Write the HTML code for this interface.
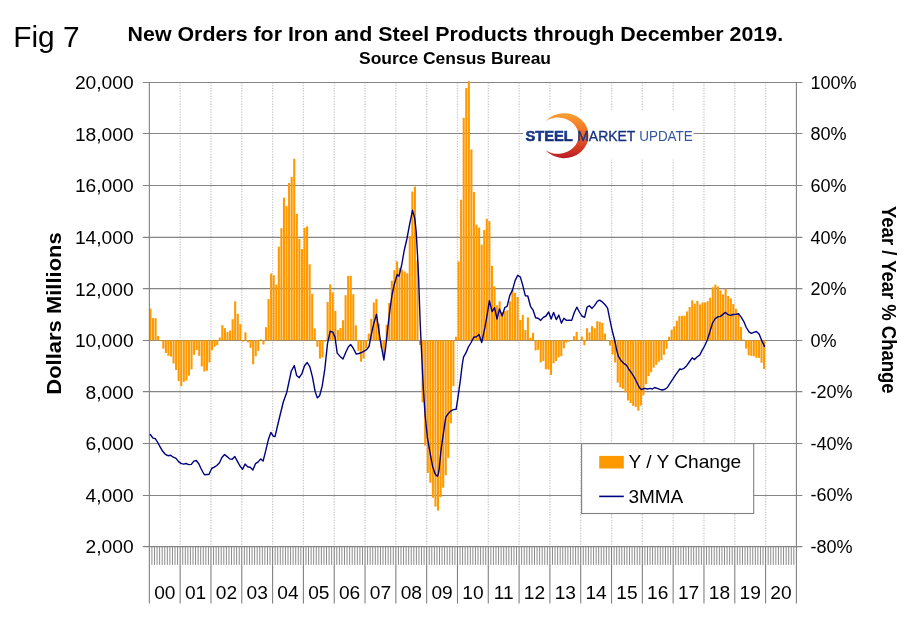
<!DOCTYPE html>
<html lang="en"><head><meta charset="utf-8"><title>Fig 7 - New Orders for Iron and Steel Products</title>
<style>html,body{margin:0;padding:0;background:#fff}svg{display:block}text{font-family:"Liberation Sans",Arial,sans-serif;fill:#000}</style></head><body>
<svg width="910" height="622" viewBox="0 0 910 622">
<rect width="910" height="622" fill="#fff"/>
<g stroke="#cacaca" stroke-width="1.3" stroke-dasharray="1.3 1.35" fill="none">
<line x1="180.16" y1="82.40" x2="180.16" y2="546.70"/>
<line x1="210.97" y1="82.40" x2="210.97" y2="546.70"/>
<line x1="241.79" y1="82.40" x2="241.79" y2="546.70"/>
<line x1="272.60" y1="82.40" x2="272.60" y2="546.70"/>
<line x1="303.41" y1="82.40" x2="303.41" y2="546.70"/>
<line x1="334.22" y1="82.40" x2="334.22" y2="546.70"/>
<line x1="365.03" y1="82.40" x2="365.03" y2="546.70"/>
<line x1="395.85" y1="82.40" x2="395.85" y2="546.70"/>
<line x1="426.66" y1="82.40" x2="426.66" y2="546.70"/>
<line x1="457.47" y1="82.40" x2="457.47" y2="546.70"/>
<line x1="488.28" y1="82.40" x2="488.28" y2="546.70"/>
<line x1="519.09" y1="82.40" x2="519.09" y2="546.70"/>
<line x1="549.90" y1="82.40" x2="549.90" y2="546.70"/>
<line x1="580.72" y1="82.40" x2="580.72" y2="546.70"/>
<line x1="611.53" y1="82.40" x2="611.53" y2="546.70"/>
<line x1="642.34" y1="82.40" x2="642.34" y2="546.70"/>
<line x1="673.15" y1="82.40" x2="673.15" y2="546.70"/>
<line x1="703.96" y1="82.40" x2="703.96" y2="546.70"/>
<line x1="734.78" y1="82.40" x2="734.78" y2="546.70"/>
<line x1="765.59" y1="82.40" x2="765.59" y2="546.70"/>
</g>
<g stroke="#858585" stroke-width="1.15" fill="none">
<line x1="142.85" y1="82.45" x2="802.40" y2="82.45"/>
<line x1="142.85" y1="133.50" x2="802.40" y2="133.50"/>
<line x1="142.85" y1="185.45" x2="802.40" y2="185.45"/>
<line x1="142.85" y1="237.35" x2="802.40" y2="237.35"/>
<line x1="142.85" y1="288.65" x2="802.40" y2="288.65"/>
<line x1="142.85" y1="340.45" x2="802.40" y2="340.45"/>
<line x1="142.85" y1="391.65" x2="802.40" y2="391.65"/>
<line x1="142.85" y1="443.50" x2="802.40" y2="443.50"/>
<line x1="142.85" y1="495.45" x2="802.40" y2="495.45"/>
<line x1="142.85" y1="546.65" x2="802.40" y2="546.65"/>
</g>
<rect x="523" y="110.5" width="170.5" height="49" fill="#fff"/>
<g fill="#ff9900">
<rect x="149.40" y="308.62" width="2.10" height="31.73"/>
<rect x="151.97" y="318.16" width="2.10" height="22.18"/>
<rect x="154.54" y="318.16" width="2.10" height="22.18"/>
<rect x="157.10" y="335.96" width="2.10" height="4.39"/>
<rect x="159.67" y="340.34" width="2.10" height="0.52"/>
<rect x="162.24" y="340.34" width="2.10" height="8.25"/>
<rect x="164.81" y="340.34" width="2.10" height="12.64"/>
<rect x="167.37" y="340.34" width="2.10" height="15.48"/>
<rect x="169.94" y="340.34" width="2.10" height="16.25"/>
<rect x="172.51" y="340.34" width="2.10" height="23.22"/>
<rect x="175.08" y="340.34" width="2.10" height="29.66"/>
<rect x="177.64" y="340.34" width="2.10" height="40.76"/>
<rect x="180.21" y="340.34" width="2.10" height="45.91"/>
<rect x="182.78" y="340.34" width="2.10" height="41.53"/>
<rect x="185.35" y="340.34" width="2.10" height="40.24"/>
<rect x="187.91" y="340.34" width="2.10" height="35.34"/>
<rect x="190.48" y="340.34" width="2.10" height="29.15"/>
<rect x="193.05" y="340.34" width="2.10" height="14.44"/>
<rect x="195.62" y="340.34" width="2.10" height="9.80"/>
<rect x="198.19" y="340.34" width="2.10" height="15.48"/>
<rect x="200.75" y="340.34" width="2.10" height="26.05"/>
<rect x="203.32" y="340.34" width="2.10" height="31.21"/>
<rect x="205.89" y="340.34" width="2.10" height="30.44"/>
<rect x="208.46" y="340.34" width="2.10" height="22.18"/>
<rect x="211.02" y="340.34" width="2.10" height="9.80"/>
<rect x="213.59" y="340.34" width="2.10" height="6.45"/>
<rect x="216.16" y="340.34" width="2.10" height="4.90"/>
<rect x="218.73" y="337.51" width="2.10" height="2.84"/>
<rect x="221.29" y="325.13" width="2.10" height="15.22"/>
<rect x="223.86" y="328.22" width="2.10" height="12.12"/>
<rect x="226.43" y="332.09" width="2.10" height="8.25"/>
<rect x="229.00" y="330.54" width="2.10" height="9.80"/>
<rect x="231.57" y="319.19" width="2.10" height="21.15"/>
<rect x="234.13" y="301.39" width="2.10" height="38.95"/>
<rect x="236.70" y="313.78" width="2.10" height="26.57"/>
<rect x="239.27" y="324.09" width="2.10" height="16.25"/>
<rect x="241.84" y="340.34" width="2.10" height="1.29"/>
<rect x="244.40" y="332.35" width="2.10" height="8.00"/>
<rect x="246.97" y="340.34" width="2.10" height="2.06"/>
<rect x="249.54" y="340.34" width="2.10" height="7.48"/>
<rect x="252.11" y="340.34" width="2.10" height="23.99"/>
<rect x="254.67" y="340.34" width="2.10" height="15.99"/>
<rect x="257.24" y="340.34" width="2.10" height="10.58"/>
<rect x="259.81" y="339.31" width="2.10" height="1.03"/>
<rect x="262.38" y="340.34" width="2.10" height="4.13"/>
<rect x="264.94" y="327.19" width="2.10" height="13.16"/>
<rect x="267.51" y="299.07" width="2.10" height="41.27"/>
<rect x="270.08" y="273.54" width="2.10" height="66.81"/>
<rect x="272.65" y="275.34" width="2.10" height="65.00"/>
<rect x="275.22" y="284.63" width="2.10" height="55.72"/>
<rect x="277.78" y="246.71" width="2.10" height="93.63"/>
<rect x="280.35" y="228.14" width="2.10" height="112.21"/>
<rect x="282.92" y="197.70" width="2.10" height="142.64"/>
<rect x="285.49" y="206.21" width="2.10" height="134.13"/>
<rect x="288.05" y="183.00" width="2.10" height="157.35"/>
<rect x="290.62" y="176.81" width="2.10" height="163.54"/>
<rect x="293.19" y="158.75" width="2.10" height="181.59"/>
<rect x="295.76" y="213.95" width="2.10" height="126.39"/>
<rect x="298.32" y="238.97" width="2.10" height="101.37"/>
<rect x="300.89" y="249.03" width="2.10" height="91.31"/>
<rect x="303.46" y="227.88" width="2.10" height="112.46"/>
<rect x="306.03" y="226.33" width="2.10" height="114.01"/>
<rect x="308.59" y="264.25" width="2.10" height="76.09"/>
<rect x="311.16" y="293.91" width="2.10" height="46.43"/>
<rect x="313.73" y="328.48" width="2.10" height="11.87"/>
<rect x="316.30" y="340.34" width="2.10" height="6.45"/>
<rect x="318.87" y="340.34" width="2.10" height="18.31"/>
<rect x="321.43" y="340.34" width="2.10" height="17.02"/>
<rect x="324.00" y="340.34" width="2.10" height="1.29"/>
<rect x="326.57" y="301.91" width="2.10" height="38.43"/>
<rect x="329.14" y="284.37" width="2.10" height="55.97"/>
<rect x="331.70" y="292.37" width="2.10" height="47.98"/>
<rect x="334.27" y="310.94" width="2.10" height="29.41"/>
<rect x="336.84" y="330.03" width="2.10" height="10.32"/>
<rect x="339.41" y="327.96" width="2.10" height="12.38"/>
<rect x="341.97" y="320.22" width="2.10" height="20.12"/>
<rect x="344.54" y="295.20" width="2.10" height="45.14"/>
<rect x="347.11" y="275.86" width="2.10" height="64.49"/>
<rect x="349.68" y="275.86" width="2.10" height="64.49"/>
<rect x="352.25" y="294.17" width="2.10" height="46.17"/>
<rect x="354.81" y="325.38" width="2.10" height="14.96"/>
<rect x="357.38" y="340.34" width="2.10" height="10.58"/>
<rect x="359.95" y="340.34" width="2.10" height="21.41"/>
<rect x="362.52" y="340.34" width="2.10" height="18.31"/>
<rect x="365.08" y="340.34" width="2.10" height="7.74"/>
<rect x="367.65" y="333.64" width="2.10" height="6.71"/>
<rect x="370.22" y="318.94" width="2.10" height="21.41"/>
<rect x="372.79" y="302.43" width="2.10" height="37.92"/>
<rect x="375.35" y="299.07" width="2.10" height="41.27"/>
<rect x="377.92" y="323.58" width="2.10" height="16.77"/>
<rect x="380.49" y="340.34" width="2.10" height="7.74"/>
<rect x="383.06" y="340.34" width="2.10" height="14.70"/>
<rect x="385.62" y="324.87" width="2.10" height="15.48"/>
<rect x="388.19" y="302.94" width="2.10" height="37.40"/>
<rect x="390.76" y="280.76" width="2.10" height="59.59"/>
<rect x="393.33" y="270.18" width="2.10" height="70.16"/>
<rect x="395.90" y="261.41" width="2.10" height="78.93"/>
<rect x="398.46" y="267.86" width="2.10" height="72.48"/>
<rect x="401.03" y="269.67" width="2.10" height="70.68"/>
<rect x="403.60" y="271.47" width="2.10" height="68.87"/>
<rect x="406.17" y="273.28" width="2.10" height="67.07"/>
<rect x="408.73" y="236.13" width="2.10" height="104.21"/>
<rect x="411.30" y="191.51" width="2.10" height="148.83"/>
<rect x="413.87" y="186.61" width="2.10" height="153.73"/>
<rect x="416.44" y="260.64" width="2.10" height="79.70"/>
<rect x="419.00" y="340.34" width="2.10" height="4.64"/>
<rect x="421.57" y="340.34" width="2.10" height="61.91"/>
<rect x="424.14" y="340.34" width="2.10" height="105.24"/>
<rect x="426.71" y="340.34" width="2.10" height="132.58"/>
<rect x="429.27" y="340.34" width="2.10" height="142.39"/>
<rect x="431.84" y="340.34" width="2.10" height="157.35"/>
<rect x="434.41" y="340.34" width="2.10" height="166.37"/>
<rect x="436.98" y="340.34" width="2.10" height="170.24"/>
<rect x="439.55" y="340.34" width="2.10" height="156.83"/>
<rect x="442.11" y="340.34" width="2.10" height="147.29"/>
<rect x="444.68" y="340.34" width="2.10" height="134.90"/>
<rect x="447.25" y="340.34" width="2.10" height="117.62"/>
<rect x="449.82" y="340.34" width="2.10" height="82.80"/>
<rect x="452.38" y="340.34" width="2.10" height="45.91"/>
<rect x="454.95" y="336.73" width="2.10" height="3.61"/>
<rect x="457.52" y="261.41" width="2.10" height="78.93"/>
<rect x="460.09" y="199.76" width="2.10" height="140.58"/>
<rect x="462.65" y="117.74" width="2.10" height="222.61"/>
<rect x="465.22" y="88.07" width="2.10" height="252.27"/>
<rect x="467.79" y="81.11" width="2.10" height="259.23"/>
<rect x="470.36" y="149.47" width="2.10" height="190.88"/>
<rect x="472.93" y="192.03" width="2.10" height="148.32"/>
<rect x="475.49" y="224.79" width="2.10" height="115.56"/>
<rect x="478.06" y="227.62" width="2.10" height="112.72"/>
<rect x="480.63" y="244.65" width="2.10" height="95.70"/>
<rect x="483.20" y="229.94" width="2.10" height="110.40"/>
<rect x="485.76" y="218.85" width="2.10" height="121.49"/>
<rect x="488.33" y="221.17" width="2.10" height="119.17"/>
<rect x="490.90" y="265.80" width="2.10" height="74.55"/>
<rect x="493.47" y="286.43" width="2.10" height="53.91"/>
<rect x="496.03" y="305.26" width="2.10" height="35.08"/>
<rect x="498.60" y="301.39" width="2.10" height="38.95"/>
<rect x="501.17" y="311.97" width="2.10" height="28.37"/>
<rect x="503.74" y="311.20" width="2.10" height="29.15"/>
<rect x="506.30" y="310.16" width="2.10" height="30.18"/>
<rect x="508.87" y="301.14" width="2.10" height="39.21"/>
<rect x="511.44" y="288.50" width="2.10" height="51.85"/>
<rect x="514.01" y="292.88" width="2.10" height="47.46"/>
<rect x="516.58" y="297.01" width="2.10" height="43.33"/>
<rect x="519.14" y="319.97" width="2.10" height="20.38"/>
<rect x="521.71" y="315.07" width="2.10" height="25.28"/>
<rect x="524.28" y="330.03" width="2.10" height="10.32"/>
<rect x="526.85" y="317.39" width="2.10" height="22.96"/>
<rect x="529.41" y="337.76" width="2.10" height="2.58"/>
<rect x="531.98" y="332.86" width="2.10" height="7.48"/>
<rect x="534.55" y="340.34" width="2.10" height="10.06"/>
<rect x="537.12" y="340.34" width="2.10" height="9.54"/>
<rect x="539.68" y="340.34" width="2.10" height="22.18"/>
<rect x="542.25" y="340.34" width="2.10" height="20.64"/>
<rect x="544.82" y="340.34" width="2.10" height="28.89"/>
<rect x="547.39" y="340.34" width="2.10" height="29.15"/>
<rect x="549.95" y="340.34" width="2.10" height="34.56"/>
<rect x="552.52" y="340.34" width="2.10" height="22.96"/>
<rect x="555.09" y="340.34" width="2.10" height="20.64"/>
<rect x="557.66" y="340.34" width="2.10" height="17.02"/>
<rect x="560.23" y="340.34" width="2.10" height="15.99"/>
<rect x="562.79" y="340.34" width="2.10" height="8.00"/>
<rect x="565.36" y="340.34" width="2.10" height="2.32"/>
<rect x="567.93" y="340.34" width="2.10" height="1.29"/>
<rect x="570.50" y="340.34" width="2.10" height="0.30"/>
<rect x="573.06" y="336.22" width="2.10" height="4.13"/>
<rect x="575.63" y="331.83" width="2.10" height="8.51"/>
<rect x="578.20" y="339.83" width="2.10" height="0.52"/>
<rect x="580.77" y="336.48" width="2.10" height="3.87"/>
<rect x="583.33" y="340.34" width="2.10" height="4.90"/>
<rect x="585.90" y="328.22" width="2.10" height="12.12"/>
<rect x="588.47" y="332.35" width="2.10" height="8.00"/>
<rect x="591.04" y="326.16" width="2.10" height="14.19"/>
<rect x="593.60" y="328.22" width="2.10" height="12.12"/>
<rect x="596.17" y="321.26" width="2.10" height="19.09"/>
<rect x="598.74" y="321.77" width="2.10" height="18.57"/>
<rect x="601.31" y="322.80" width="2.10" height="17.54"/>
<rect x="603.88" y="333.64" width="2.10" height="6.71"/>
<rect x="606.44" y="340.34" width="2.10" height="0.77"/>
<rect x="609.01" y="340.34" width="2.10" height="5.16"/>
<rect x="611.58" y="340.34" width="2.10" height="14.19"/>
<rect x="614.15" y="340.34" width="2.10" height="22.18"/>
<rect x="616.71" y="340.34" width="2.10" height="42.30"/>
<rect x="619.28" y="340.34" width="2.10" height="46.95"/>
<rect x="621.85" y="340.34" width="2.10" height="48.49"/>
<rect x="624.42" y="340.34" width="2.10" height="52.10"/>
<rect x="626.98" y="340.34" width="2.10" height="60.10"/>
<rect x="629.55" y="340.34" width="2.10" height="62.68"/>
<rect x="632.12" y="340.34" width="2.10" height="65.52"/>
<rect x="634.69" y="340.34" width="2.10" height="66.55"/>
<rect x="637.26" y="340.34" width="2.10" height="70.42"/>
<rect x="639.82" y="340.34" width="2.10" height="65.26"/>
<rect x="642.39" y="340.34" width="2.10" height="54.94"/>
<rect x="644.96" y="340.34" width="2.10" height="43.85"/>
<rect x="647.53" y="340.34" width="2.10" height="35.85"/>
<rect x="650.09" y="340.34" width="2.10" height="31.99"/>
<rect x="652.66" y="340.34" width="2.10" height="27.34"/>
<rect x="655.23" y="340.34" width="2.10" height="24.50"/>
<rect x="657.80" y="340.34" width="2.10" height="21.41"/>
<rect x="660.36" y="340.34" width="2.10" height="19.60"/>
<rect x="662.93" y="340.34" width="2.10" height="14.44"/>
<rect x="665.50" y="340.34" width="2.10" height="8.51"/>
<rect x="668.07" y="336.73" width="2.10" height="3.61"/>
<rect x="670.63" y="329.77" width="2.10" height="10.58"/>
<rect x="673.20" y="326.42" width="2.10" height="13.93"/>
<rect x="675.77" y="320.74" width="2.10" height="19.60"/>
<rect x="678.34" y="316.10" width="2.10" height="24.25"/>
<rect x="680.91" y="315.84" width="2.10" height="24.50"/>
<rect x="683.47" y="315.58" width="2.10" height="24.76"/>
<rect x="686.04" y="311.45" width="2.10" height="28.89"/>
<rect x="688.61" y="307.07" width="2.10" height="33.27"/>
<rect x="691.18" y="300.36" width="2.10" height="39.98"/>
<rect x="693.74" y="303.72" width="2.10" height="36.63"/>
<rect x="696.31" y="300.88" width="2.10" height="39.47"/>
<rect x="698.88" y="304.49" width="2.10" height="35.85"/>
<rect x="701.45" y="302.43" width="2.10" height="37.92"/>
<rect x="704.01" y="302.43" width="2.10" height="37.92"/>
<rect x="706.58" y="301.14" width="2.10" height="39.21"/>
<rect x="709.15" y="297.78" width="2.10" height="42.56"/>
<rect x="711.72" y="287.21" width="2.10" height="53.14"/>
<rect x="714.28" y="284.63" width="2.10" height="55.72"/>
<rect x="716.85" y="286.43" width="2.10" height="53.91"/>
<rect x="719.42" y="290.56" width="2.10" height="49.78"/>
<rect x="721.99" y="294.43" width="2.10" height="45.91"/>
<rect x="724.56" y="288.76" width="2.10" height="51.59"/>
<rect x="727.12" y="295.98" width="2.10" height="44.37"/>
<rect x="729.69" y="298.30" width="2.10" height="42.04"/>
<rect x="732.26" y="303.97" width="2.10" height="36.37"/>
<rect x="734.83" y="308.88" width="2.10" height="31.47"/>
<rect x="737.39" y="313.26" width="2.10" height="27.08"/>
<rect x="739.96" y="326.93" width="2.10" height="13.41"/>
<rect x="742.53" y="339.57" width="2.10" height="0.77"/>
<rect x="745.10" y="340.34" width="2.10" height="8.25"/>
<rect x="747.66" y="340.34" width="2.10" height="14.96"/>
<rect x="750.23" y="340.34" width="2.10" height="15.48"/>
<rect x="752.80" y="340.34" width="2.10" height="15.99"/>
<rect x="755.37" y="340.34" width="2.10" height="17.54"/>
<rect x="757.94" y="340.34" width="2.10" height="17.54"/>
<rect x="760.50" y="340.34" width="2.10" height="22.44"/>
<rect x="763.07" y="340.34" width="2.10" height="28.63"/>
</g>
<g stroke="#808080" stroke-width="1.1" fill="none">
<line x1="149.35" y1="82.40" x2="149.35" y2="603.60"/>
<line x1="796.40" y1="82.40" x2="796.40" y2="603.60"/>
<line x1="180.16" y1="546.70" x2="180.16" y2="603.60"/>
<line x1="210.97" y1="546.70" x2="210.97" y2="603.60"/>
<line x1="241.79" y1="546.70" x2="241.79" y2="603.60"/>
<line x1="272.60" y1="546.70" x2="272.60" y2="603.60"/>
<line x1="303.41" y1="546.70" x2="303.41" y2="603.60"/>
<line x1="334.22" y1="546.70" x2="334.22" y2="603.60"/>
<line x1="365.03" y1="546.70" x2="365.03" y2="603.60"/>
<line x1="395.85" y1="546.70" x2="395.85" y2="603.60"/>
<line x1="426.66" y1="546.70" x2="426.66" y2="603.60"/>
<line x1="457.47" y1="546.70" x2="457.47" y2="603.60"/>
<line x1="488.28" y1="546.70" x2="488.28" y2="603.60"/>
<line x1="519.09" y1="546.70" x2="519.09" y2="603.60"/>
<line x1="549.90" y1="546.70" x2="549.90" y2="603.60"/>
<line x1="580.72" y1="546.70" x2="580.72" y2="603.60"/>
<line x1="611.53" y1="546.70" x2="611.53" y2="603.60"/>
<line x1="642.34" y1="546.70" x2="642.34" y2="603.60"/>
<line x1="673.15" y1="546.70" x2="673.15" y2="603.60"/>
<line x1="703.96" y1="546.70" x2="703.96" y2="603.60"/>
<line x1="734.78" y1="546.70" x2="734.78" y2="603.60"/>
<line x1="765.59" y1="546.70" x2="765.59" y2="603.60"/>
</g>
<g stroke="#828282" stroke-width="0.92" fill="none">
<line x1="151.92" y1="546.70" x2="151.92" y2="564.90"/>
<line x1="154.49" y1="546.70" x2="154.49" y2="564.90"/>
<line x1="157.05" y1="546.70" x2="157.05" y2="564.90"/>
<line x1="159.62" y1="546.70" x2="159.62" y2="564.90"/>
<line x1="162.19" y1="546.70" x2="162.19" y2="564.90"/>
<line x1="164.76" y1="546.70" x2="164.76" y2="564.90"/>
<line x1="167.32" y1="546.70" x2="167.32" y2="564.90"/>
<line x1="169.89" y1="546.70" x2="169.89" y2="564.90"/>
<line x1="172.46" y1="546.70" x2="172.46" y2="564.90"/>
<line x1="175.03" y1="546.70" x2="175.03" y2="564.90"/>
<line x1="177.59" y1="546.70" x2="177.59" y2="564.90"/>
<line x1="182.73" y1="546.70" x2="182.73" y2="564.90"/>
<line x1="185.30" y1="546.70" x2="185.30" y2="564.90"/>
<line x1="187.86" y1="546.70" x2="187.86" y2="564.90"/>
<line x1="190.43" y1="546.70" x2="190.43" y2="564.90"/>
<line x1="193.00" y1="546.70" x2="193.00" y2="564.90"/>
<line x1="195.57" y1="546.70" x2="195.57" y2="564.90"/>
<line x1="198.14" y1="546.70" x2="198.14" y2="564.90"/>
<line x1="200.70" y1="546.70" x2="200.70" y2="564.90"/>
<line x1="203.27" y1="546.70" x2="203.27" y2="564.90"/>
<line x1="205.84" y1="546.70" x2="205.84" y2="564.90"/>
<line x1="208.41" y1="546.70" x2="208.41" y2="564.90"/>
<line x1="213.54" y1="546.70" x2="213.54" y2="564.90"/>
<line x1="216.11" y1="546.70" x2="216.11" y2="564.90"/>
<line x1="218.68" y1="546.70" x2="218.68" y2="564.90"/>
<line x1="221.24" y1="546.70" x2="221.24" y2="564.90"/>
<line x1="223.81" y1="546.70" x2="223.81" y2="564.90"/>
<line x1="226.38" y1="546.70" x2="226.38" y2="564.90"/>
<line x1="228.95" y1="546.70" x2="228.95" y2="564.90"/>
<line x1="231.52" y1="546.70" x2="231.52" y2="564.90"/>
<line x1="234.08" y1="546.70" x2="234.08" y2="564.90"/>
<line x1="236.65" y1="546.70" x2="236.65" y2="564.90"/>
<line x1="239.22" y1="546.70" x2="239.22" y2="564.90"/>
<line x1="244.35" y1="546.70" x2="244.35" y2="564.90"/>
<line x1="246.92" y1="546.70" x2="246.92" y2="564.90"/>
<line x1="249.49" y1="546.70" x2="249.49" y2="564.90"/>
<line x1="252.06" y1="546.70" x2="252.06" y2="564.90"/>
<line x1="254.62" y1="546.70" x2="254.62" y2="564.90"/>
<line x1="257.19" y1="546.70" x2="257.19" y2="564.90"/>
<line x1="259.76" y1="546.70" x2="259.76" y2="564.90"/>
<line x1="262.33" y1="546.70" x2="262.33" y2="564.90"/>
<line x1="264.89" y1="546.70" x2="264.89" y2="564.90"/>
<line x1="267.46" y1="546.70" x2="267.46" y2="564.90"/>
<line x1="270.03" y1="546.70" x2="270.03" y2="564.90"/>
<line x1="275.17" y1="546.70" x2="275.17" y2="564.90"/>
<line x1="277.73" y1="546.70" x2="277.73" y2="564.90"/>
<line x1="280.30" y1="546.70" x2="280.30" y2="564.90"/>
<line x1="282.87" y1="546.70" x2="282.87" y2="564.90"/>
<line x1="285.44" y1="546.70" x2="285.44" y2="564.90"/>
<line x1="288.00" y1="546.70" x2="288.00" y2="564.90"/>
<line x1="290.57" y1="546.70" x2="290.57" y2="564.90"/>
<line x1="293.14" y1="546.70" x2="293.14" y2="564.90"/>
<line x1="295.71" y1="546.70" x2="295.71" y2="564.90"/>
<line x1="298.27" y1="546.70" x2="298.27" y2="564.90"/>
<line x1="300.84" y1="546.70" x2="300.84" y2="564.90"/>
<line x1="305.98" y1="546.70" x2="305.98" y2="564.90"/>
<line x1="308.54" y1="546.70" x2="308.54" y2="564.90"/>
<line x1="311.11" y1="546.70" x2="311.11" y2="564.90"/>
<line x1="313.68" y1="546.70" x2="313.68" y2="564.90"/>
<line x1="316.25" y1="546.70" x2="316.25" y2="564.90"/>
<line x1="318.82" y1="546.70" x2="318.82" y2="564.90"/>
<line x1="321.38" y1="546.70" x2="321.38" y2="564.90"/>
<line x1="323.95" y1="546.70" x2="323.95" y2="564.90"/>
<line x1="326.52" y1="546.70" x2="326.52" y2="564.90"/>
<line x1="329.09" y1="546.70" x2="329.09" y2="564.90"/>
<line x1="331.65" y1="546.70" x2="331.65" y2="564.90"/>
<line x1="336.79" y1="546.70" x2="336.79" y2="564.90"/>
<line x1="339.36" y1="546.70" x2="339.36" y2="564.90"/>
<line x1="341.92" y1="546.70" x2="341.92" y2="564.90"/>
<line x1="344.49" y1="546.70" x2="344.49" y2="564.90"/>
<line x1="347.06" y1="546.70" x2="347.06" y2="564.90"/>
<line x1="349.63" y1="546.70" x2="349.63" y2="564.90"/>
<line x1="352.20" y1="546.70" x2="352.20" y2="564.90"/>
<line x1="354.76" y1="546.70" x2="354.76" y2="564.90"/>
<line x1="357.33" y1="546.70" x2="357.33" y2="564.90"/>
<line x1="359.90" y1="546.70" x2="359.90" y2="564.90"/>
<line x1="362.47" y1="546.70" x2="362.47" y2="564.90"/>
<line x1="367.60" y1="546.70" x2="367.60" y2="564.90"/>
<line x1="370.17" y1="546.70" x2="370.17" y2="564.90"/>
<line x1="372.74" y1="546.70" x2="372.74" y2="564.90"/>
<line x1="375.30" y1="546.70" x2="375.30" y2="564.90"/>
<line x1="377.87" y1="546.70" x2="377.87" y2="564.90"/>
<line x1="380.44" y1="546.70" x2="380.44" y2="564.90"/>
<line x1="383.01" y1="546.70" x2="383.01" y2="564.90"/>
<line x1="385.57" y1="546.70" x2="385.57" y2="564.90"/>
<line x1="388.14" y1="546.70" x2="388.14" y2="564.90"/>
<line x1="390.71" y1="546.70" x2="390.71" y2="564.90"/>
<line x1="393.28" y1="546.70" x2="393.28" y2="564.90"/>
<line x1="398.41" y1="546.70" x2="398.41" y2="564.90"/>
<line x1="400.98" y1="546.70" x2="400.98" y2="564.90"/>
<line x1="403.55" y1="546.70" x2="403.55" y2="564.90"/>
<line x1="406.12" y1="546.70" x2="406.12" y2="564.90"/>
<line x1="408.68" y1="546.70" x2="408.68" y2="564.90"/>
<line x1="411.25" y1="546.70" x2="411.25" y2="564.90"/>
<line x1="413.82" y1="546.70" x2="413.82" y2="564.90"/>
<line x1="416.39" y1="546.70" x2="416.39" y2="564.90"/>
<line x1="418.95" y1="546.70" x2="418.95" y2="564.90"/>
<line x1="421.52" y1="546.70" x2="421.52" y2="564.90"/>
<line x1="424.09" y1="546.70" x2="424.09" y2="564.90"/>
<line x1="429.22" y1="546.70" x2="429.22" y2="564.90"/>
<line x1="431.79" y1="546.70" x2="431.79" y2="564.90"/>
<line x1="434.36" y1="546.70" x2="434.36" y2="564.90"/>
<line x1="436.93" y1="546.70" x2="436.93" y2="564.90"/>
<line x1="439.50" y1="546.70" x2="439.50" y2="564.90"/>
<line x1="442.06" y1="546.70" x2="442.06" y2="564.90"/>
<line x1="444.63" y1="546.70" x2="444.63" y2="564.90"/>
<line x1="447.20" y1="546.70" x2="447.20" y2="564.90"/>
<line x1="449.77" y1="546.70" x2="449.77" y2="564.90"/>
<line x1="452.33" y1="546.70" x2="452.33" y2="564.90"/>
<line x1="454.90" y1="546.70" x2="454.90" y2="564.90"/>
<line x1="460.04" y1="546.70" x2="460.04" y2="564.90"/>
<line x1="462.60" y1="546.70" x2="462.60" y2="564.90"/>
<line x1="465.17" y1="546.70" x2="465.17" y2="564.90"/>
<line x1="467.74" y1="546.70" x2="467.74" y2="564.90"/>
<line x1="470.31" y1="546.70" x2="470.31" y2="564.90"/>
<line x1="472.88" y1="546.70" x2="472.88" y2="564.90"/>
<line x1="475.44" y1="546.70" x2="475.44" y2="564.90"/>
<line x1="478.01" y1="546.70" x2="478.01" y2="564.90"/>
<line x1="480.58" y1="546.70" x2="480.58" y2="564.90"/>
<line x1="483.15" y1="546.70" x2="483.15" y2="564.90"/>
<line x1="485.71" y1="546.70" x2="485.71" y2="564.90"/>
<line x1="490.85" y1="546.70" x2="490.85" y2="564.90"/>
<line x1="493.42" y1="546.70" x2="493.42" y2="564.90"/>
<line x1="495.98" y1="546.70" x2="495.98" y2="564.90"/>
<line x1="498.55" y1="546.70" x2="498.55" y2="564.90"/>
<line x1="501.12" y1="546.70" x2="501.12" y2="564.90"/>
<line x1="503.69" y1="546.70" x2="503.69" y2="564.90"/>
<line x1="506.25" y1="546.70" x2="506.25" y2="564.90"/>
<line x1="508.82" y1="546.70" x2="508.82" y2="564.90"/>
<line x1="511.39" y1="546.70" x2="511.39" y2="564.90"/>
<line x1="513.96" y1="546.70" x2="513.96" y2="564.90"/>
<line x1="516.53" y1="546.70" x2="516.53" y2="564.90"/>
<line x1="521.66" y1="546.70" x2="521.66" y2="564.90"/>
<line x1="524.23" y1="546.70" x2="524.23" y2="564.90"/>
<line x1="526.80" y1="546.70" x2="526.80" y2="564.90"/>
<line x1="529.36" y1="546.70" x2="529.36" y2="564.90"/>
<line x1="531.93" y1="546.70" x2="531.93" y2="564.90"/>
<line x1="534.50" y1="546.70" x2="534.50" y2="564.90"/>
<line x1="537.07" y1="546.70" x2="537.07" y2="564.90"/>
<line x1="539.63" y1="546.70" x2="539.63" y2="564.90"/>
<line x1="542.20" y1="546.70" x2="542.20" y2="564.90"/>
<line x1="544.77" y1="546.70" x2="544.77" y2="564.90"/>
<line x1="547.34" y1="546.70" x2="547.34" y2="564.90"/>
<line x1="552.47" y1="546.70" x2="552.47" y2="564.90"/>
<line x1="555.04" y1="546.70" x2="555.04" y2="564.90"/>
<line x1="557.61" y1="546.70" x2="557.61" y2="564.90"/>
<line x1="560.18" y1="546.70" x2="560.18" y2="564.90"/>
<line x1="562.74" y1="546.70" x2="562.74" y2="564.90"/>
<line x1="565.31" y1="546.70" x2="565.31" y2="564.90"/>
<line x1="567.88" y1="546.70" x2="567.88" y2="564.90"/>
<line x1="570.45" y1="546.70" x2="570.45" y2="564.90"/>
<line x1="573.01" y1="546.70" x2="573.01" y2="564.90"/>
<line x1="575.58" y1="546.70" x2="575.58" y2="564.90"/>
<line x1="578.15" y1="546.70" x2="578.15" y2="564.90"/>
<line x1="583.28" y1="546.70" x2="583.28" y2="564.90"/>
<line x1="585.85" y1="546.70" x2="585.85" y2="564.90"/>
<line x1="588.42" y1="546.70" x2="588.42" y2="564.90"/>
<line x1="590.99" y1="546.70" x2="590.99" y2="564.90"/>
<line x1="593.55" y1="546.70" x2="593.55" y2="564.90"/>
<line x1="596.12" y1="546.70" x2="596.12" y2="564.90"/>
<line x1="598.69" y1="546.70" x2="598.69" y2="564.90"/>
<line x1="601.26" y1="546.70" x2="601.26" y2="564.90"/>
<line x1="603.83" y1="546.70" x2="603.83" y2="564.90"/>
<line x1="606.39" y1="546.70" x2="606.39" y2="564.90"/>
<line x1="608.96" y1="546.70" x2="608.96" y2="564.90"/>
<line x1="614.10" y1="546.70" x2="614.10" y2="564.90"/>
<line x1="616.66" y1="546.70" x2="616.66" y2="564.90"/>
<line x1="619.23" y1="546.70" x2="619.23" y2="564.90"/>
<line x1="621.80" y1="546.70" x2="621.80" y2="564.90"/>
<line x1="624.37" y1="546.70" x2="624.37" y2="564.90"/>
<line x1="626.93" y1="546.70" x2="626.93" y2="564.90"/>
<line x1="629.50" y1="546.70" x2="629.50" y2="564.90"/>
<line x1="632.07" y1="546.70" x2="632.07" y2="564.90"/>
<line x1="634.64" y1="546.70" x2="634.64" y2="564.90"/>
<line x1="637.21" y1="546.70" x2="637.21" y2="564.90"/>
<line x1="639.77" y1="546.70" x2="639.77" y2="564.90"/>
<line x1="644.91" y1="546.70" x2="644.91" y2="564.90"/>
<line x1="647.48" y1="546.70" x2="647.48" y2="564.90"/>
<line x1="650.04" y1="546.70" x2="650.04" y2="564.90"/>
<line x1="652.61" y1="546.70" x2="652.61" y2="564.90"/>
<line x1="655.18" y1="546.70" x2="655.18" y2="564.90"/>
<line x1="657.75" y1="546.70" x2="657.75" y2="564.90"/>
<line x1="660.31" y1="546.70" x2="660.31" y2="564.90"/>
<line x1="662.88" y1="546.70" x2="662.88" y2="564.90"/>
<line x1="665.45" y1="546.70" x2="665.45" y2="564.90"/>
<line x1="668.02" y1="546.70" x2="668.02" y2="564.90"/>
<line x1="670.58" y1="546.70" x2="670.58" y2="564.90"/>
<line x1="675.72" y1="546.70" x2="675.72" y2="564.90"/>
<line x1="678.29" y1="546.70" x2="678.29" y2="564.90"/>
<line x1="680.86" y1="546.70" x2="680.86" y2="564.90"/>
<line x1="683.42" y1="546.70" x2="683.42" y2="564.90"/>
<line x1="685.99" y1="546.70" x2="685.99" y2="564.90"/>
<line x1="688.56" y1="546.70" x2="688.56" y2="564.90"/>
<line x1="691.13" y1="546.70" x2="691.13" y2="564.90"/>
<line x1="693.69" y1="546.70" x2="693.69" y2="564.90"/>
<line x1="696.26" y1="546.70" x2="696.26" y2="564.90"/>
<line x1="698.83" y1="546.70" x2="698.83" y2="564.90"/>
<line x1="701.40" y1="546.70" x2="701.40" y2="564.90"/>
<line x1="706.53" y1="546.70" x2="706.53" y2="564.90"/>
<line x1="709.10" y1="546.70" x2="709.10" y2="564.90"/>
<line x1="711.67" y1="546.70" x2="711.67" y2="564.90"/>
<line x1="714.23" y1="546.70" x2="714.23" y2="564.90"/>
<line x1="716.80" y1="546.70" x2="716.80" y2="564.90"/>
<line x1="719.37" y1="546.70" x2="719.37" y2="564.90"/>
<line x1="721.94" y1="546.70" x2="721.94" y2="564.90"/>
<line x1="724.51" y1="546.70" x2="724.51" y2="564.90"/>
<line x1="727.07" y1="546.70" x2="727.07" y2="564.90"/>
<line x1="729.64" y1="546.70" x2="729.64" y2="564.90"/>
<line x1="732.21" y1="546.70" x2="732.21" y2="564.90"/>
<line x1="737.34" y1="546.70" x2="737.34" y2="564.90"/>
<line x1="739.91" y1="546.70" x2="739.91" y2="564.90"/>
<line x1="742.48" y1="546.70" x2="742.48" y2="564.90"/>
<line x1="745.05" y1="546.70" x2="745.05" y2="564.90"/>
<line x1="747.61" y1="546.70" x2="747.61" y2="564.90"/>
<line x1="750.18" y1="546.70" x2="750.18" y2="564.90"/>
<line x1="752.75" y1="546.70" x2="752.75" y2="564.90"/>
<line x1="755.32" y1="546.70" x2="755.32" y2="564.90"/>
<line x1="757.89" y1="546.70" x2="757.89" y2="564.90"/>
<line x1="760.45" y1="546.70" x2="760.45" y2="564.90"/>
<line x1="763.02" y1="546.70" x2="763.02" y2="564.90"/>
<line x1="768.16" y1="546.70" x2="768.16" y2="564.90"/>
<line x1="770.72" y1="546.70" x2="770.72" y2="564.90"/>
<line x1="773.29" y1="546.70" x2="773.29" y2="564.90"/>
<line x1="775.86" y1="546.70" x2="775.86" y2="564.90"/>
<line x1="778.43" y1="546.70" x2="778.43" y2="564.90"/>
<line x1="780.99" y1="546.70" x2="780.99" y2="564.90"/>
<line x1="783.56" y1="546.70" x2="783.56" y2="564.90"/>
<line x1="786.13" y1="546.70" x2="786.13" y2="564.90"/>
<line x1="788.70" y1="546.70" x2="788.70" y2="564.90"/>
<line x1="791.26" y1="546.70" x2="791.26" y2="564.90"/>
<line x1="793.83" y1="546.70" x2="793.83" y2="564.90"/>
</g>
<polyline fill="none" stroke="#000080" stroke-width="1.4" stroke-linejoin="round" stroke-linecap="round" points="150.3,434.5 153.0,438.1 155.3,438.6 157.7,442.5 160.4,447.3 162.7,451.3 165.3,454.3 168.0,455.7 170.6,455.2 173.3,457.2 176.0,458.4 178.6,461.6 180.9,463.4 183.6,464.1 186.0,463.5 188.7,464.6 191.3,464.4 193.8,461.1 196.3,460.5 198.8,463.7 201.2,469.0 203.9,474.0 205.1,474.8 209.0,474.3 211.7,468.5 214.3,467.2 216.8,465.5 219.5,462.8 221.9,457.5 224.6,454.5 227.1,456.6 229.7,458.9 232.2,459.3 234.8,456.5 237.3,461.1 240.0,466.0 242.6,469.2 245.1,464.1 247.6,466.7 250.2,467.2 252.9,469.9 255.5,463.7 258.2,461.9 260.7,458.9 263.1,461.1 265.8,450.4 268.3,439.8 270.9,432.4 273.4,436.3 275.0,436.6 278.9,420.0 283.3,402.0 286.8,392.2 291.3,371.0 294.3,365.7 296.6,375.4 299.2,377.7 301.9,373.7 304.5,365.7 307.2,362.5 309.8,366.6 312.5,377.2 315.1,391.4 317.3,397.9 319.6,395.8 322.2,386.1 324.9,368.4 327.5,343.6 330.2,331.2 332.8,332.1 335.0,337.1 337.2,353.1 340.1,356.4 343.0,359.1 345.8,352.3 348.3,347.0 350.6,344.4 353.1,348.0 356.3,354.1 358.9,353.5 361.8,352.3 364.7,350.9 366.8,349.4 369.0,346.5 371.2,335.0 373.8,323.4 376.5,314.3 378.4,327.7 380.6,342.2 383.9,360.0 385.6,348.0 387.8,327.7 390.0,308.9 392.1,294.5 394.3,284.3 395.6,280.0 397.1,274.7 398.9,276.1 401.6,265.5 404.2,250.5 406.9,239.0 409.5,224.8 412.5,210.3 414.8,218.6 416.2,231.9 417.5,254.9 418.7,280.0 418.9,286.8 420.3,325.7 421.6,352.7 423.3,388.1 425.1,414.6 425.6,420.0 427.4,437.7 429.9,451.8 432.5,466.0 434.8,473.1 436.2,475.4 437.5,476.2 438.5,473.1 439.3,467.8 441.0,450.1 443.3,434.1 445.8,417.2 448.4,413.4 450.7,411.1 453.4,409.6 456.1,409.3 457.8,398.7 460.5,379.2 462.2,365.0 463.5,357.2 465.8,353.2 468.4,347.0 471.1,342.5 473.7,337.2 476.4,336.7 479.0,334.6 481.7,342.5 485.0,327.2 487.1,315.1 489.4,300.6 492.1,311.6 494.6,307.7 497.0,319.0 499.5,308.9 502.2,316.0 504.8,307.5 507.1,306.3 509.8,295.3 512.4,290.4 515.1,280.6 517.7,275.3 520.4,277.1 522.7,285.1 525.3,295.7 527.8,296.0 530.5,306.3 533.1,310.2 535.6,317.8 538.1,318.3 540.7,320.4 543.4,317.3 546.0,316.0 548.7,312.0 551.1,319.0 553.6,312.5 556.3,319.6 558.8,315.1 561.4,323.1 563.9,318.3 566.5,320.4 569.2,320.1 571.7,320.4 574.3,312.5 576.8,307.2 579.4,312.0 581.9,316.0 584.6,317.3 587.1,307.2 589.4,305.8 592.0,308.4 594.7,305.4 597.3,301.3 599.6,300.1 602.3,301.9 604.9,304.5 607.6,308.1 610.0,320.4 612.7,332.8 614.5,339.5 616.7,350.1 618.4,356.3 621.1,360.7 623.7,363.3 626.4,365.1 629.0,369.5 631.7,373.1 634.4,377.5 637.0,382.8 639.7,388.1 641.4,389.5 644.8,388.4 647.5,389.0 650.1,388.4 652.4,389.0 654.7,387.5 657.2,388.4 659.8,389.3 662.3,390.0 665.0,389.3 667.4,387.5 670.1,383.1 672.8,379.2 675.4,375.2 678.1,371.3 679.8,369.0 681.6,369.5 684.3,368.1 686.9,365.4 689.6,361.5 692.2,357.8 694.5,359.6 697.0,357.0 699.6,355.2 702.1,350.4 704.6,346.0 707.2,340.3 709.9,331.8 712.5,323.0 715.2,318.6 717.9,316.8 720.5,316.4 723.2,314.1 725.5,312.4 728.1,314.7 730.6,315.4 733.2,314.5 735.7,314.4 738.4,313.7 741.0,316.9 743.7,321.3 746.3,327.5 749.0,331.9 751.3,333.3 753.9,332.3 756.4,331.5 759.1,334.0 761.7,340.4 764.5,346.4"/>
<g font-size="19.2" text-anchor="end">
<text x="133.6" y="89.1">20,000</text>
<text x="133.6" y="140.7">18,000</text>
<text x="133.6" y="192.3">16,000</text>
<text x="133.6" y="243.9">14,000</text>
<text x="133.6" y="295.5">12,000</text>
<text x="133.6" y="347.0">10,000</text>
<text x="133.6" y="398.6">8,000</text>
<text x="133.6" y="450.2">6,000</text>
<text x="133.6" y="501.8">4,000</text>
<text x="133.6" y="553.4">2,000</text>
</g>
<g font-size="18.05">
<text x="810.4" y="88.7">100%</text>
<text x="810.4" y="140.3">80%</text>
<text x="810.4" y="191.9">60%</text>
<text x="810.4" y="243.5">40%</text>
<text x="810.4" y="295.1">20%</text>
<text x="810.4" y="346.6">0%</text>
<text x="810.4" y="398.2">-20%</text>
<text x="810.4" y="449.8">-40%</text>
<text x="810.4" y="501.4">-60%</text>
<text x="810.4" y="553.0">-80%</text>
</g>
<g font-size="19.15" text-anchor="middle">
<text x="164.8" y="598.8">00</text>
<text x="195.6" y="598.8">01</text>
<text x="226.4" y="598.8">02</text>
<text x="257.2" y="598.8">03</text>
<text x="288.0" y="598.8">04</text>
<text x="318.8" y="598.8">05</text>
<text x="349.6" y="598.8">06</text>
<text x="380.4" y="598.8">07</text>
<text x="411.3" y="598.8">08</text>
<text x="442.1" y="598.8">09</text>
<text x="472.9" y="598.8">10</text>
<text x="503.7" y="598.8">11</text>
<text x="534.5" y="598.8">12</text>
<text x="565.3" y="598.8">13</text>
<text x="596.1" y="598.8">14</text>
<text x="626.9" y="598.8">15</text>
<text x="657.7" y="598.8">16</text>
<text x="688.6" y="598.8">17</text>
<text x="719.4" y="598.8">18</text>
<text x="750.2" y="598.8">19</text>
<text x="781.0" y="598.8">20</text>
</g>
<text x="13.2" y="47.2" font-size="29.3" textLength="66.4" lengthAdjust="spacingAndGlyphs">Fig 7</text>
<text x="127.6" y="41" font-size="20" font-weight="bold" textLength="655.5" lengthAdjust="spacingAndGlyphs">New Orders for Iron and Steel Products through December 2019.</text>
<text x="359" y="63.5" font-size="16" font-weight="bold" textLength="192" lengthAdjust="spacingAndGlyphs">Source Census Bureau</text>
<text transform="translate(60.5 313.5) rotate(-90)" font-size="20" font-weight="bold" text-anchor="middle" textLength="162.5" lengthAdjust="spacingAndGlyphs">Dollars Millions</text>
<text transform="translate(881.5 299.8) rotate(90)" font-size="20" font-weight="bold" text-anchor="middle" textLength="187.5" lengthAdjust="spacingAndGlyphs">Year / Year % Change</text>
<rect x="581.6" y="443.6" width="172.1" height="69.9" fill="#fff" stroke="#808080" stroke-width="1.1"/>
<rect x="599.2" y="455.9" width="24.6" height="12.6" fill="#ff9900"/>
<line x1="599.2" y1="496.4" x2="623.8" y2="496.4" stroke="#000080" stroke-width="1.6"/>
<text x="628.4" y="468" font-size="19.15">Y / Y Change</text>
<text x="628.4" y="502.6" font-size="19">3MMA</text>
<defs><linearGradient id="cg" x1="0" y1="0" x2="0" y2="1"><stop offset="0" stop-color="#f9a030"/><stop offset="0.45" stop-color="#f26a22"/><stop offset="1" stop-color="#bb1a26"/></linearGradient>
<linearGradient id="tg" x1="0" y1="0" x2="0" y2="1"><stop offset="0" stop-color="#2350a8"/><stop offset="1" stop-color="#0b1f66"/></linearGradient></defs>
<path d="M545.6 121.2 A24.3 22.5 0 1 1 545.6 150.2 A20.6 18.1 0 1 0 545.6 121.2 Z" fill="url(#cg)"/>
<rect x="524" y="129" width="169" height="13.5" fill="#fff" opacity="0"/>
<text x="525.4" y="140.8" font-size="14.3" font-weight="bold" textLength="47.4" lengthAdjust="spacingAndGlyphs" style="fill:url(#tg);stroke:#14307c;stroke-width:0.5">STEEL</text>
<text x="577.2" y="140.8" font-size="14.3" textLength="58.2" lengthAdjust="spacingAndGlyphs" style="fill:#17347f;stroke:#17347f;stroke-width:0.35">MARKET</text>
<text x="639.2" y="140.8" font-size="14.3" textLength="53.6" lengthAdjust="spacingAndGlyphs" style="fill:#3355a0">UPDATE</text>
</svg></body></html>
